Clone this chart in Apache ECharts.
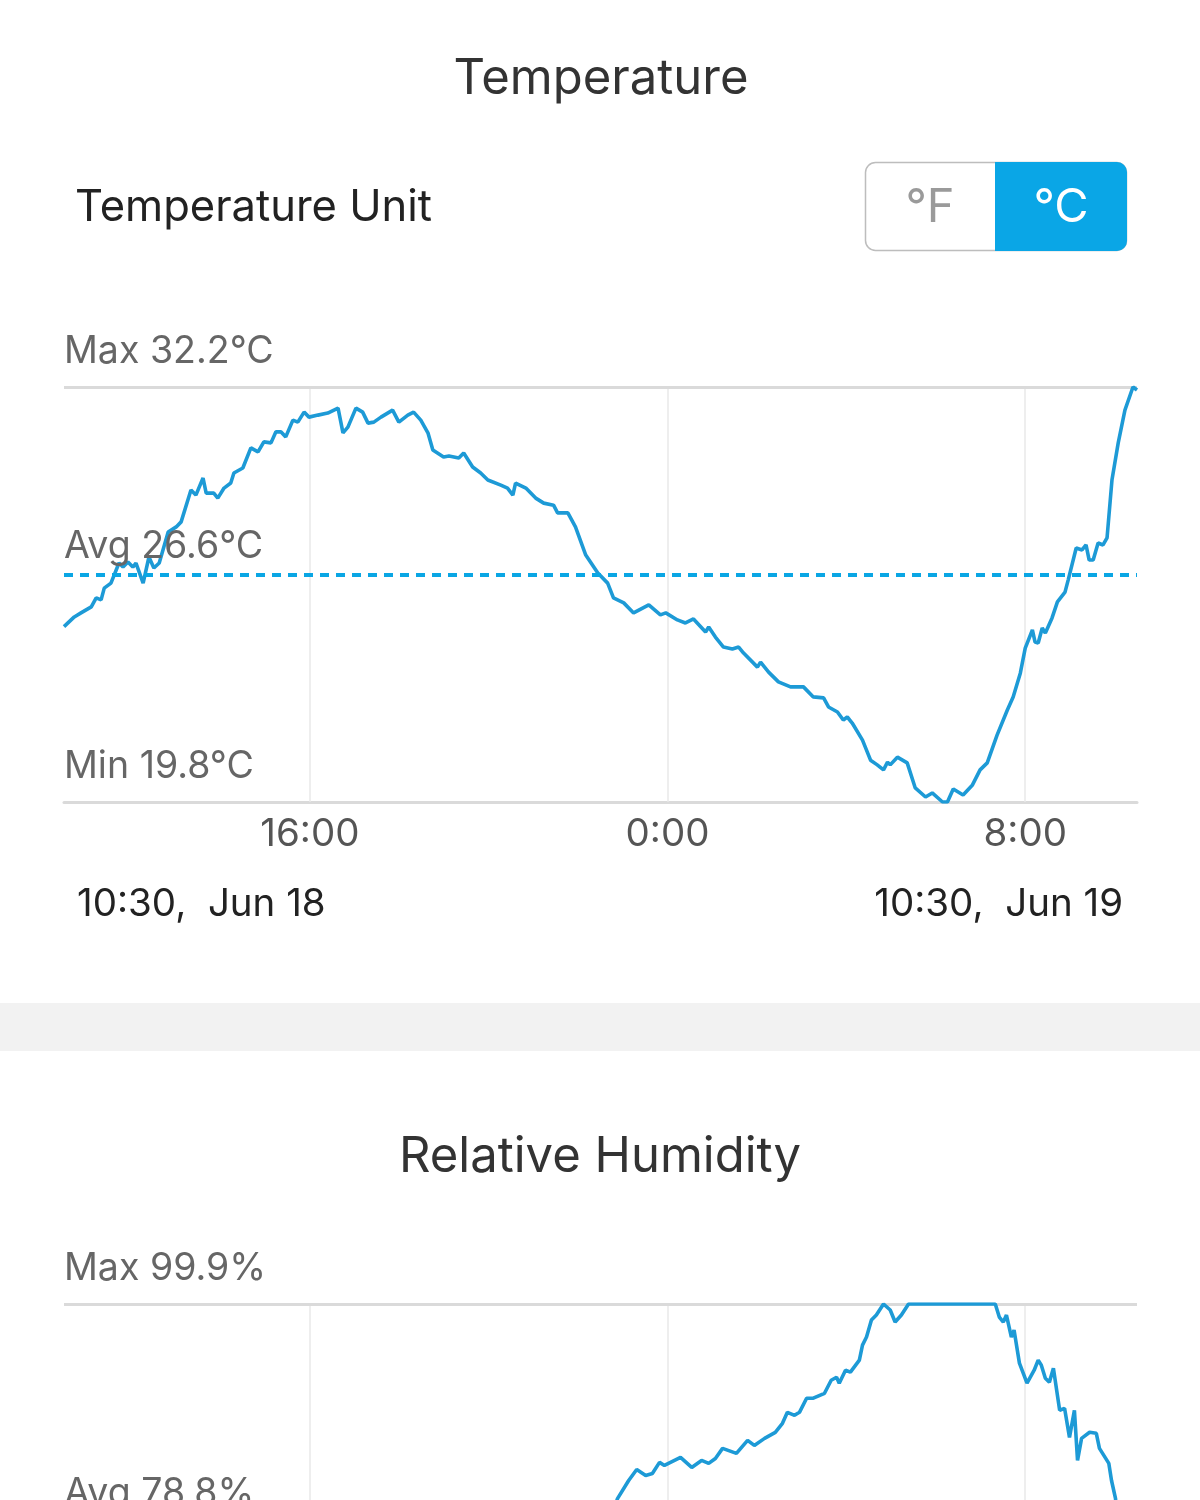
<!DOCTYPE html>
<html>
<head>
<meta charset="utf-8">
<script src="https://cdn.jsdelivr.net/npm/echarts@6/dist/echarts.min.js"></script>
<style>
html,body{margin:0;padding:0;background:#fff;overflow:hidden;}
#main{width:1200px;height:1500px;}
</style>
</head>
<body>
<div id="main"></div>
<script>
// ---- data (hours since 0:00 Jun 18) ----
const xTickHours = [16, 24, 32];
const xRange = [10.5, 34.5];
const startLabel = '10:30,  Jun 18';
const endLabel = '10:30,  Jun 19';

const tempStats = [32.2, 26.6, 19.8]; // max, avg, min
const tempHours = [10.5,10.73,10.88,11.11,11.22,11.33,11.40,11.55,11.73,11.82,11.93,12.04,12.11,12.27,12.40,12.51,12.63,12.83,13.01,13.12,13.34,13.45,13.61,13.68,13.85,13.94,14.08,14.23,14.30,14.50,14.68,14.84,14.97,15.13,15.24,15.35,15.46,15.62,15.73,15.87,15.98,16.18,16.40,16.63,16.74,16.85,17.03,17.18,17.30,17.43,17.59,17.85,17.99,18.19,18.32,18.48,18.64,18.75,18.99,19.11,19.33,19.44,19.64,19.82,19.98,20.27,20.42,20.54,20.60,20.83,21.05,21.23,21.45,21.54,21.77,21.94,22.17,22.44,22.66,22.79,23.02,23.24,23.58,23.84,23.96,24.22,24.40,24.58,24.85,24.92,25.07,25.25,25.45,25.59,25.70,26.01,26.08,26.26,26.48,26.75,27.04,27.26,27.49,27.60,27.80,27.93,28.02,28.13,28.36,28.54,28.69,28.83,28.92,28.98,29.14,29.36,29.54,29.77,29.92,30.15,30.26,30.39,30.61,30.82,30.99,31.15,31.37,31.60,31.73,31.89,32.00,32.16,32.22,32.29,32.38,32.45,32.60,32.72,32.89,32.96,33.14,33.27,33.36,33.43,33.52,33.63,33.74,33.83,33.94,34.08,34.23,34.41,34.50];
const tempValues = [25.04,25.33,25.45,25.63,25.90,25.84,26.19,26.34,26.94,26.82,26.97,26.82,26.94,26.34,27.12,26.79,26.94,27.87,28.02,28.17,29.12,28.97,29.48,29.03,29.03,28.88,29.18,29.33,29.63,29.78,30.38,30.26,30.56,30.53,30.86,30.86,30.71,31.21,31.15,31.45,31.30,31.36,31.42,31.57,30.83,31.00,31.57,31.45,31.12,31.15,31.30,31.51,31.15,31.36,31.45,31.21,30.83,30.32,30.11,30.14,30.08,30.23,29.81,29.63,29.42,29.27,29.18,28.97,29.33,29.18,28.88,28.73,28.67,28.44,28.44,28.02,27.18,26.64,26.34,25.90,25.75,25.45,25.69,25.39,25.45,25.24,25.15,25.27,24.88,25.03,24.73,24.43,24.37,24.43,24.25,23.83,23.98,23.68,23.39,23.24,23.24,22.94,22.91,22.64,22.49,22.25,22.34,22.16,21.65,21.05,20.91,20.76,20.99,20.91,21.14,20.97,20.22,19.95,20.07,19.80,19.80,20.19,20.01,20.31,20.76,20.97,21.80,22.55,22.94,23.65,24.40,24.94,24.58,24.55,25.00,24.85,25.30,25.78,26.07,26.43,27.39,27.33,27.48,27.03,27.03,27.54,27.48,27.69,29.42,30.53,31.51,32.20,32.11];

const humStats = [99.9, 78.8, 59.6]; // max, avg, min
const humHours = [10.5,11.0,11.5,12.0,12.5,13.0,13.5,14.0,14.5,15.0,15.5,16.0,16.5,17.0,17.5,18.0,18.5,19.0,19.5,20.0,20.5,21.0,21.5,22.0,22.4,22.7,22.88,23.13,23.31,23.51,23.66,23.82,23.93,24.29,24.54,24.76,24.92,25.07,25.23,25.54,25.79,25.94,26.17,26.41,26.57,26.68,26.84,26.95,27.11,27.26,27.51,27.66,27.78,27.84,27.98,28.09,28.29,28.36,28.45,28.56,28.67,28.83,28.98,29.09,29.23,29.39,30.32,31.33,31.42,31.51,31.58,31.69,31.75,31.87,32.04,32.20,32.29,32.36,32.45,32.54,32.63,32.77,32.88,32.99,33.10,33.17,33.26,33.44,33.59,33.66,33.87,33.93,34.02,34.12,34.25,34.40,34.50];
const humValues = [72.0,71.2,70.0,68.5,67.8,65.5,63.8,63.5,62.2,61.0,60.4,60.0,59.8,59.6,60.0,59.8,60.3,61.5,62.6,63.8,64.7,65.9,67.0,69.5,75.0,78.6,81.0,82.76,83.83,83.25,83.44,84.52,84.22,85.0,84.03,84.71,84.42,84.9,85.88,85.39,86.66,86.17,86.85,87.44,88.31,89.38,89.09,89.38,90.75,90.75,91.23,92.5,92.79,92.21,93.47,93.28,94.45,95.91,96.69,98.34,98.83,99.9,99.32,98.15,98.83,99.9,99.9,99.9,98.63,98.15,98.83,96.69,97.37,94.16,92.21,93.47,94.45,93.96,92.69,92.31,93.67,89.58,89.77,86.95,89.58,84.71,86.85,87.44,87.34,85.88,84.42,82.76,81.0,74.5,66.0,60.5,60.2];

// ---- chart ----
const FONT = 'Inter, "Liberation Sans", Arial, sans-serif';
const LINE_COLOR = '#1d9ad6';
const AVG_COLOR = '#0aa6e4';
const GRID_COLOR = '#e8e8e8';
const EDGE_COLOR = '#dadada';
const STAT_SIZE = 37.5;

function pairs(xs, ys){ return xs.map((x,i)=>[x, ys[i]]); }

function helperSeries(idx, stats, unit, showMin){
  const data = xTickHours.map(h => ({xAxis: h, lineStyle:{color:GRID_COLOR, width:1.5, type:'solid'}, label:{show:false}}));
  data.push({yAxis: stats[0], lineStyle:{color:EDGE_COLOR, width:3, type:'solid'},
    label:{show:true, position:'insideStartTop', formatter:'Max ' + stats[0] + unit, distance:[0, 16],
      fontSize:STAT_SIZE, color:'#666', fontFamily:FONT}});
  if (showMin) {
    data.push({yAxis: stats[2], lineStyle:{color:'rgba(0,0,0,0)', width:1, type:'solid'},
      label:{show:true, position:'insideStartTop', formatter:'Min ' + stats[2] + unit, distance:[0, 16],
        fontSize:STAT_SIZE, color:'#666', fontFamily:FONT}});
  }
  return {
    type:'line', xAxisIndex:idx, yAxisIndex:idx, data:[], z:1, silent:true,
    markLine:{silent:true, symbol:['none','none'], z:1, animation:false, data:data}
  };
}

function mainSeries(idx, xs, ys, stats, unit){
  return {
    type:'line', xAxisIndex:idx, yAxisIndex:idx, data:pairs(xs, ys), z:3,
    showSymbol:false, symbol:'none', smooth:false,
    lineStyle:{color:LINE_COLOR, width:3.6},
    markLine:{silent:true, symbol:['none','none'], z:4, animation:false,
      data:[{yAxis: stats[1], lineStyle:{color:AVG_COLOR, width:4, type:[9,7]},
        label:{show:true, position:'insideStartTop', formatter:'Avg ' + stats[1] + unit, distance:[0, 9],
          fontSize:STAT_SIZE, color:'#666', fontFamily:FONT}}]}
  };
}

function xAxisCfg(idx){
  return {
    type:'value', gridIndex:idx, min:xRange[0], max:xRange[1],
    axisLine:{show:true, lineStyle:{color:EDGE_COLOR, width:3}},
    axisTick:{show:false}, splitLine:{show:false},
    axisLabel:{show:true, customValues:xTickHours, formatter: v => (v % 24) + ':00',
      fontSize:38.5, color:'#555', fontFamily:FONT, margin:13}
  };
}
function yAxisCfg(idx, stats){
  return {
    type:'value', gridIndex:idx, min:stats[2], max:stats[0],
    axisLine:{show:false}, axisTick:{show:false}, axisLabel:{show:false}, splitLine:{show:false}
  };
}

function txt(x, y, text, size, color, align){
  return {type:'text', silent:true, style:{x:x, y:y, text:text, fontSize:size, fontFamily:FONT,
    fill:color, textAlign:align || 'left', textVerticalAlign:'middle'}};
}

const option = {
  animation:false,
  backgroundColor:'#ffffff',
  grid:[
    {left:64, right:63, top:387, height:415, outerBoundsMode:'none', containLabel:false},
    {left:64, right:63, top:1304, height:415, outerBoundsMode:'none', containLabel:false}
  ],
  xAxis:[xAxisCfg(0), xAxisCfg(1)],
  yAxis:[yAxisCfg(0, tempStats), yAxisCfg(1, humStats)],
  series:[
    helperSeries(0, tempStats, '°C', true),
    mainSeries(0, tempHours, tempValues, tempStats, '°C'),
    helperSeries(1, humStats, '%', true),
    mainSeries(1, humHours, humValues, humStats, '%')
  ],
  graphic:[
    {type:'rect', silent:true, z:-1, shape:{x:0, y:1003, width:1200, height:48}, style:{fill:'#f2f2f2'}},
    txt(601, 79, 'Temperature', 49, '#333', 'center'),
    txt(75, 208, 'Temperature Unit', 43.5, '#222'),
    {type:'rect', silent:true, shape:{x:865.5, y:162.5, width:261, height:88, r:10},
      style:{fill:'#fff', stroke:'#bdbdbd', lineWidth:1.5}},
    {type:'rect', silent:true, shape:{x:995, y:162, width:132, height:89, r:[0,10,10,0]},
      style:{fill:'#0aa6e6'}},
    txt(930, 208, '°F', 47, '#9a9a9a', 'center'),
    txt(1061, 208, '°C', 47, '#ffffff', 'center'),
    txt(77, 904, startLabel, 38.5, '#222'),
    txt(1123, 904, endLabel, 38.5, '#222', 'right'),
    txt(600, 1157, 'Relative Humidity', 49, '#333', 'center')
  ]
};

const chart = echarts.init(document.getElementById('main'), null, {renderer:'canvas', width:1200, height:1500});
chart.setOption(option);
</script>
</body>
</html>
